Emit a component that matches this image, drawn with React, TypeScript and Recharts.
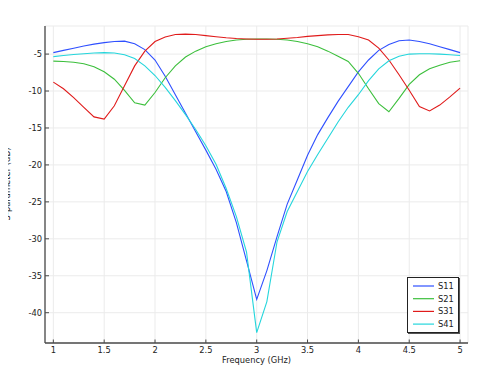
import React from 'react';
import { LineChart, Line, XAxis, YAxis, CartesianGrid, Legend } from 'recharts';

const freq = [1.0, 1.1, 1.2, 1.3, 1.4, 1.5, 1.6, 1.7, 1.8, 1.9, 2.0, 2.1, 2.2, 2.3, 2.4, 2.5, 2.6, 2.7, 2.8, 2.9, 3.0, 3.1, 3.2, 3.3, 3.4, 3.5, 3.6, 3.7, 3.8, 3.9, 4.0, 4.1, 4.2, 4.3, 4.4, 4.5, 4.6, 4.7, 4.8, 4.9, 5.0];

const s11 = [-4.8, -4.5, -4.2, -3.9, -3.65, -3.45, -3.3, -3.25, -3.6, -4.4, -5.8, -8.0, -10.5, -13.0, -15.5, -18.0, -20.6, -23.6, -27.8, -33.0, -38.2, -34.3, -29.7, -25.3, -22.0, -18.7, -15.9, -13.6, -11.4, -9.4, -7.4, -5.8, -4.5, -3.7, -3.2, -3.1, -3.3, -3.6, -4.0, -4.4, -4.8];

const s21 = [-5.95, -6.0, -6.1, -6.3, -6.7, -7.4, -8.4, -9.9, -11.6, -11.9, -10.2, -8.2, -6.6, -5.4, -4.6, -4.0, -3.6, -3.3, -3.1, -3.0, -2.95, -2.95, -3.0, -3.1, -3.3, -3.6, -4.0, -4.6, -5.3, -6.0, -7.6, -9.7, -11.7, -12.8, -11.0, -9.1, -7.8, -7.0, -6.5, -6.1, -5.9];

const s31 = [-8.8, -9.7, -10.9, -12.2, -13.5, -13.8, -12.0, -9.3, -6.6, -4.6, -3.3, -2.7, -2.35, -2.3, -2.35, -2.5, -2.65, -2.8, -2.9, -2.95, -3.0, -3.0, -2.95, -2.85, -2.75, -2.6, -2.5, -2.4, -2.35, -2.35, -2.65, -3.1, -4.2, -5.8, -7.8, -9.9, -12.1, -12.7, -11.9, -10.8, -9.6];

const s41 = [-5.35, -5.2, -5.05, -4.95, -4.85, -4.8, -4.85, -5.1, -5.6, -6.6, -7.9, -9.5, -11.3, -13.2, -15.2, -17.4, -19.9, -23.2, -27.0, -31.8, -42.7, -38.5, -30.4, -26.3, -23.6, -20.9, -18.6, -16.4, -14.2, -12.2, -10.5, -8.6, -7.0, -5.9, -5.3, -5.0, -4.95, -4.95, -5.0, -5.1, -5.2];

const seriesNames = ['S11', 'S21', 'S31', 'S41'];
const seriesColors = ['#2f50ff', '#3cbf3c', '#e01b1b', '#25d6dc'];
const seriesValues = [s11, s21, s31, s41];

const xTicks = [1, 1.5, 2, 2.5, 3, 3.5, 4, 4.5, 5];
const yTicks = [-40, -35, -30, -25, -20, -15, -10, -5];

const data = freq.map((f, i) => {
  const row: any = { f };
  seriesNames.forEach((n, k) => { row[n] = seriesValues[k][i]; });
  return row;
});

const FONT = '"DejaVu Sans", sans-serif';
const FS = 8.3;
const TXT = '#222';
const AX = '#4a4a4a';

const LeftTick = (p: any) => (
  <g>
    <line x1={p.x + 3} x2={p.x + 7} y1={p.y} y2={p.y} stroke={AX} strokeWidth={1} />
    <text x={p.x} y={p.y} textAnchor="end" dy="0.355em" fontFamily={FONT} fontSize={FS} fill={TXT}>{p.payload.value}</text>
  </g>
);
const BottomTick = (p: any) => (
  <g>
    <line x1={p.x} x2={p.x} y1={p.y - 4} y2={p.y - 7.5} stroke={AX} strokeWidth={1} />
    <text x={p.x} y={p.y} textAnchor="middle" dy="0.71em" fontFamily={FONT} fontSize={FS} fill={TXT}>{p.payload.value}</text>
  </g>
);
const RightTick = (p: any) => (
  <line x1={p.x - 4} x2={p.x} y1={p.y} y2={p.y} stroke={AX} strokeWidth={1} />
);
const TopTick = (p: any) => (
  <line x1={p.x} x2={p.x} y1={p.y} y2={p.y + 4} stroke={AX} strokeWidth={1} />
);

const renderLegend = () => (
  <div style={{ width: 50, height: 54, background: '#fff', border: '1px solid #222', boxShadow: '1px 1px 0 #555' }}>
    <svg width={50} height={54} style={{ display: 'block' }}>
      {seriesNames.map((n, i) => (
        <g key={n}>
          <line x1={5} x2={26} y1={8 + i * 12.7} y2={8 + i * 12.7} stroke={seriesColors[i]} strokeWidth={1.2} />
          <text x={30} y={8 + i * 12.7} dy="0.355em" fontFamily={FONT} fontSize={FS} fill={TXT}>{n}</text>
        </g>
      ))}
    </svg>
  </div>
);

export default function App() {
  return (
    <div style={{ margin: '-8px 0 0 -8px', width: 492, height: 369, background: '#fff', position: 'relative' }}>
      <LineChart width={492} height={369} data={data} margin={{ top: 26, right: 24, bottom: 0, left: 0 }}>
        <CartesianGrid stroke="#ebebeb" strokeWidth={1} />
        <XAxis dataKey="f" type="number" domain={[0.918, 5.078]} ticks={xTicks} allowDataOverflow
          height={26} tickSize={0} tickMargin={4} tick={BottomTick} stroke={AX} strokeWidth={1.3}
          label={{ value: 'Frequency (GHz)', position: 'insideBottom', offset: 6, fontFamily: FONT, fontSize: FS, fill: TXT }} />
        <XAxis xAxisId="top" orientation="top" dataKey="f" type="number" domain={[0.918, 5.078]} ticks={xTicks} allowDataOverflow
          height={0} tickSize={0} tickMargin={0} tick={TopTick} stroke={AX} strokeWidth={1.3} />
        <YAxis type="number" domain={[-44.1, -1.2]} ticks={yTicks} allowDataOverflow width={45}
          tickSize={0} tickMargin={3} tick={LeftTick} stroke={AX} strokeWidth={1.3} />
        <YAxis yAxisId="right" orientation="right" type="number" domain={[-44.1, -1.2]} ticks={yTicks} allowDataOverflow width={0}
          tickSize={0} tickMargin={0} tick={RightTick} stroke={AX} strokeWidth={1.3} />
        {seriesNames.map((n, i) => (
          <Line key={n} type="linear" dataKey={n} name={n} stroke={seriesColors[i]} strokeWidth={1.1}
            dot={false} activeDot={false} isAnimationActive={false} />
        ))}
        <Legend layout="vertical" align="center" verticalAlign="middle" content={renderLegend}
          wrapperStyle={{ position: 'absolute', left: 407, top: 277, width: 52, height: 56 }} />
      </LineChart>
      <div style={{ position: 'absolute', left: -53, top: 179, width: 120, height: 10, lineHeight: '10px', textAlign: 'center', transform: 'rotate(-90deg)', fontFamily: FONT, fontSize: 8.4, color: '#111', whiteSpace: 'nowrap' }}>S-parameter (dB)</div>
    </div>
  );
}
